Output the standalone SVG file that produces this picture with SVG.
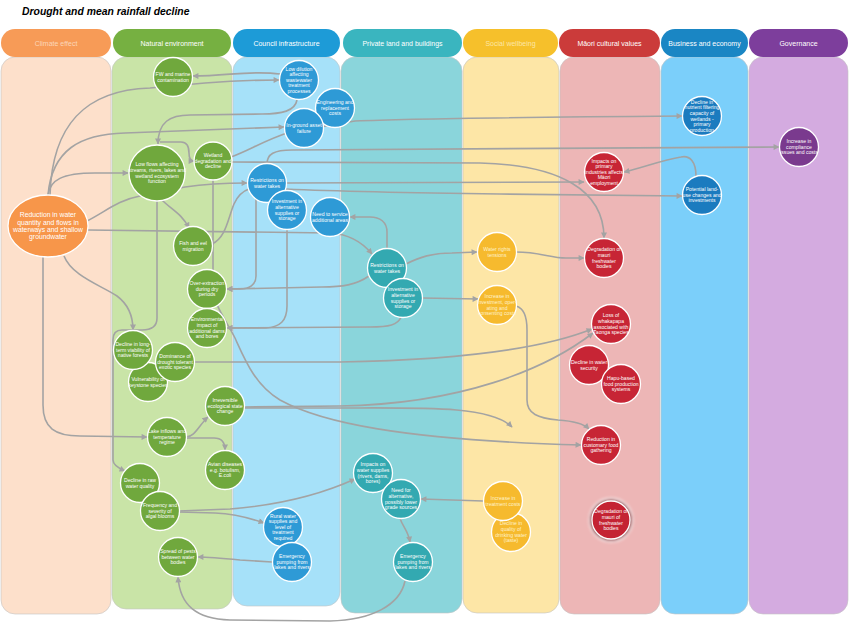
<svg xmlns="http://www.w3.org/2000/svg" width="850" height="626" viewBox="0 0 850 626">
<defs>
<style>
.lane{stroke:#C4C4C4;stroke-width:0.6}
.hd{font-family:"Liberation Sans",Arial,sans-serif;font-size:7px;text-anchor:middle;fill:#FFFFFF}
.c{fill:none;stroke:#A3A3A3;stroke-width:1.6}
.a{marker-end:url(#ah)}
circle,ellipse{stroke:#FFFFFF;stroke-width:1.3}
.g{fill:#70A83D}.cb{fill:#2E9AD6}.pt{fill:#33A9B1}.y{fill:#F6BA2E}.r{fill:#C72535}.bb{fill:#1B7BBF}.pu{fill:#7A3A8E}
.t{font-family:"Liberation Sans",Arial,sans-serif;font-size:5.1px;text-anchor:middle;fill:#FFFFFF}
.ty{fill:#FFF2CC}
.et{font-family:"Liberation Sans",Arial,sans-serif;font-size:6.8px;text-anchor:middle;fill:#FFFFFF}
</style>
<marker id="ah" viewBox="0 0 10 10" refX="9" refY="5" markerWidth="7" markerHeight="6" markerUnits="userSpaceOnUse" orient="auto"><path d="M0,0 L10,5 L0,10 z" fill="#A3A3A3"/></marker>
<filter id="blur" x="-50%" y="-50%" width="200%" height="200%"><feGaussianBlur stdDeviation="1.6"/></filter>
</defs>
<rect width="850" height="626" fill="#FFFFFF"/>
<text x="22" y="15" font-family="Liberation Sans, Arial, sans-serif" font-weight="bold" font-style="italic" font-size="10.4" fill="#000000">Drought and mean rainfall decline</text>

<g id="lanes">
<rect class="lane" x="1" y="57" width="110" height="557" rx="14" fill="#FDE0CB"/>
<rect class="lane" x="112" y="57" width="120" height="552" rx="14" fill="#C9E4A7"/>
<rect class="lane" x="233" y="57" width="107" height="549" rx="14" fill="#A6E1F9"/>
<rect class="lane" x="341" y="57" width="121" height="556" rx="14" fill="#8AD5DB"/>
<rect class="lane" x="463" y="57" width="96" height="556" rx="14" fill="#FDE6A6"/>
<rect class="lane" x="560" y="57" width="100" height="557" rx="14" fill="#EDB6B6"/>
<rect class="lane" x="661" y="57" width="87" height="557" rx="14" fill="#7BCFFA"/>
<rect class="lane" x="749" y="57" width="99" height="557" rx="14" fill="#D4ABE0"/>
</g>
<g id="headers">
<rect x="1" y="29" width="110" height="28" rx="14" fill="#F79B57"/><text class="hd" x="56" y="45.5" style="fill:#FCD6B8">Climate effect</text>
<rect x="113" y="29" width="118" height="28" rx="14" fill="#76B041"/><text class="hd" x="172" y="45.5">Natural environment</text>
<rect x="233" y="29" width="107" height="28" rx="14" fill="#1D9BD7"/><text class="hd" x="286.5" y="45.5">Council infrastructure</text>
<rect x="343" y="29" width="119" height="28" rx="14" fill="#3AB5BF"/><text class="hd" x="402.5" y="45.5">Private land and buildings</text>
<rect x="463" y="29" width="95" height="28" rx="14" fill="#F6C02B"/><text class="hd" x="510.5" y="45.5" style="fill:#FDE6A4">Social wellbeing</text>
<rect x="559" y="29" width="101" height="28" rx="14" fill="#CB3B3A"/><text class="hd" x="609.5" y="45.5">Māori cultural values</text>
<rect x="661" y="29" width="87" height="28" rx="14" fill="#1A86C4"/><text class="hd" x="704.5" y="45.5">Business and economy</text>
<rect x="749" y="29" width="99" height="28" rx="14" fill="#7D3E9C"/><text class="hd" x="798.5" y="45.5">Governance</text>
</g>

<g id="connectors">
<path class="c a" d="M 50 195 C 52 125, 85 90, 150 88 L 205 83 C 230 81, 255 80, 279 80"/>
<path class="c a" d="M 280 74 C 250 70, 228 76, 193 76"/>
<path class="c a" d="M 48 195 C 52 150, 80 134, 125 133 L 284 127"/>
<path class="c a" d="M 48 195 C 50 180, 62 173, 95 173 L 128 173"/>
<path class="c a" d="M 87 221 C 105 212, 118 200, 140 196 L 185 187 C 205 184, 222 183, 247 183"/>
<path class="c" d="M 212 244 C 226 238, 228 218, 234 204 C 238 195, 243 191, 249 189"/>
<path class="c a" d="M 88 230 L 330 233 C 348 234, 362 242, 372 254"/>
<path class="c a" d="M 64 256 C 72 276, 100 285, 117 296 C 129 305, 133 316, 133 330"/>
<path class="c a" d="M 43 257 L 43 405 C 43 428, 55 436, 80 436 L 147 437"/>
<path class="c a" d="M 162 200 C 172 210, 182 214, 189 228"/>
<path class="c a" d="M 157 201 L 157 318 C 157 327, 151 330, 142 330 L 122 330 C 116 330, 113 333, 113 340 L 113 460 C 113 465, 118 468, 125 471"/>
<path class="c a" d="M 297 100 C 295 111, 282 114, 262 114 L 190 115 C 170 115, 158 122, 158 144"/>
<path class="c a" d="M 160 142 L 181 142 C 187 142, 189 147, 189 153 C 189 159, 191 161, 194 161"/>
<path class="c a" d="M 231 157 C 250 150, 265 140, 290 132 L 355 121 C 420 118, 550 117, 682 116"/>
<path class="c a" d="M 267 164 C 267 154, 274 150, 292 150 L 779 147"/>
<path class="c a" d="M 232 162 L 480 163 C 560 165, 604 190, 604 238"/>
<path class="c a" d="M 286 183 L 584 182"/>
<path class="c a" d="M 285 189 C 330 191, 420 193, 500 194 L 682 196"/>
<path class="c a" d="M 696 176 C 696 162, 690 155, 681 157 C 662 160, 642 168, 624 172"/>
<path class="c a" d="M 256 199 L 256 276 C 256 285, 249 289, 240 289 L 227 289"/>
<path class="c a" d="M 369 276 C 356 285, 342 287, 322 287 L 227 289"/>
<path class="c a" d="M 287 229 L 287 306 C 287 321, 280 327, 266 328 L 227 328"/>
<path class="c a" d="M 401 317 C 398 325, 389 327, 370 327 L 227 328"/>
<path class="c a" d="M 194 362 L 340 362 C 450 360, 540 350, 592 329"/>
<path class="c a" d="M 244 407 L 340 406 C 460 404, 545 370, 593 333"/>
<path class="c a" d="M 244 408 L 330 408 C 420 408, 490 405, 512 427"/>
<path class="c a" d="M 213 180 L 213 285 C 213 305, 225 318, 235 338 C 245 360, 255 385, 280 400 C 320 422, 400 440, 581 445"/>
<path class="c a" d="M 516 306 C 524 308, 527 316, 527 330 L 527 400 C 527 414, 538 418, 558 420 C 574 421, 584 424, 589 429"/>
<path class="c a" d="M 186 437 C 195 437, 199 425, 208 417"/>
<path class="c a" d="M 186 438 L 214 438 C 221 438, 225 442, 225 450"/>
<path class="c a" d="M 179 511 L 230 509 C 280 505, 322 494, 355 479"/>
<path class="c a" d="M 179 512 L 215 513 C 236 514, 250 518, 264 523"/>
<path class="c a" d="M 272 562 L 240 560 C 220 558, 210 557, 198 557"/>
<path class="c a" d="M 405 581 C 400 605, 372 620, 330 621 L 230 620 C 196 619, 180 605, 178 577"/>
<path class="c a" d="M 400 518 C 402 526, 408 530, 410 542"/>
<path class="c a" d="M 483 501 L 421 499"/>
<path class="c a" d="M 406 264 C 420 257, 432 253, 452 253 L 477 252"/>
<path class="c a" d="M 387 248 L 387 232 C 387 222, 380 217, 370 217 L 350 217"/>
<path class="c a" d="M 516 252 C 540 252, 550 258, 566 258 L 584 258"/>
<path class="c a" d="M 422 298 L 478 299"/>
</g>

<g id="reduction-water"><ellipse cx="48" cy="226" rx="40" ry="31" fill="#F7964A"/><text class="et" x="48" y="226"><tspan x="48" dy="-8.6">Reduction in water</tspan><tspan x="48" dy="7.3">quantity and flows in</tspan><tspan x="48" dy="7.3">waterways and shallow</tspan><tspan x="48" dy="7.3">groundwater</tspan></text></g>

<g id="fw-contamination"><circle class="g" cx="173" cy="77" r="19.5"/><text class="t" x="173" y="77"><tspan x="173" dy="-1">FW and marine</tspan><tspan x="173" dy="5.6">contamination</tspan></text></g>
<g id="low-dilution"><circle class="cb" cx="299" cy="80" r="19.5"/><text class="t" x="299" y="80"><tspan x="299" dy="-9.4">Low dilution</tspan><tspan x="299" dy="5.6">affecting</tspan><tspan x="299" dy="5.6">wastewater</tspan><tspan x="299" dy="5.6">treatment</tspan><tspan x="299" dy="5.6">processes</tspan></text></g>
<g id="engineering-costs"><circle class="cb" cx="335" cy="108" r="19.5"/><text class="t" x="335" y="108"><tspan x="335" dy="-3.8">Engineering and</tspan><tspan x="335" dy="5.6">replacement</tspan><tspan x="335" dy="5.6">costs</tspan></text></g>
<g id="inground-asset"><circle class="cb" cx="304" cy="128" r="19.5"/><text class="t" x="304" y="128"><tspan x="304" dy="-1">In-ground asset</tspan><tspan x="304" dy="5.6">failure</tspan></text></g>
<g id="low-flows"><circle class="g" cx="157" cy="173" r="28"/><text class="t" x="157" y="173"><tspan x="157" dy="-6.6">Low flows affecting</tspan><tspan x="157" dy="5.6">streams, rivers, lakes and</tspan><tspan x="157" dy="5.6">wetland ecosystem</tspan><tspan x="157" dy="5.6">function</tspan></text></g>
<g id="wetland-degradation"><circle class="g" cx="213" cy="161" r="19"/><text class="t" x="213" y="161"><tspan x="213" dy="-3.8">Wetland</tspan><tspan x="213" dy="5.6">degradation and</tspan><tspan x="213" dy="5.6">decline</tspan></text></g>
<g id="restrictions-council"><circle class="cb" cx="267" cy="183" r="19.5"/><text class="t" x="267" y="183"><tspan x="267" dy="-1">Restrictions on</tspan><tspan x="267" dy="5.6">water takes</tspan></text></g>
<g id="investment-council"><circle class="cb" cx="287" cy="210" r="19.5"/><text class="t" x="287" y="210"><tspan x="287" dy="-6.6">Investment in</tspan><tspan x="287" dy="5.6">alternative</tspan><tspan x="287" dy="5.6">supplies or</tspan><tspan x="287" dy="5.6">storage</tspan></text></g>
<g id="need-service"><circle class="cb" cx="330" cy="217" r="19.5"/><text class="t" x="330" y="217"><tspan x="330" dy="-1">Need to service</tspan><tspan x="330" dy="5.6">additional areas</tspan></text></g>
<g id="fish-eel"><circle class="g" cx="193" cy="246" r="19.5"/><text class="t" x="193" y="246"><tspan x="193" dy="-1">Fish and eel</tspan><tspan x="193" dy="5.6">migration</tspan></text></g>
<g id="over-extraction"><circle class="g" cx="207" cy="289" r="19.5"/><text class="t" x="207" y="289"><tspan x="207" dy="-3.8">Over-extraction</tspan><tspan x="207" dy="5.6">during dry</tspan><tspan x="207" dy="5.6">periods</tspan></text></g>
<g id="environmental-impact"><circle class="g" cx="207" cy="328" r="19.5"/><text class="t" x="207" y="328"><tspan x="207" dy="-6.6">Environmental</tspan><tspan x="207" dy="5.6">impact of</tspan><tspan x="207" dy="5.6">additional dams</tspan><tspan x="207" dy="5.6">and bores</tspan></text></g>
<g id="vulnerability-keystone"><circle class="g" cx="148" cy="382" r="19.5"/><text class="t" x="148" y="382"><tspan x="148" dy="-1">Vulnerability of</tspan><tspan x="148" dy="5.6">keystone species</tspan></text></g>
<g id="decline-native-forests"><circle class="g" cx="133" cy="350" r="19.5"/><text class="t" x="133" y="350"><tspan x="133" dy="-3.8">Decline in long-</tspan><tspan x="133" dy="5.6">term viability of</tspan><tspan x="133" dy="5.6">native forests</tspan></text></g>
<g id="dominance-exotic"><circle class="g" cx="175" cy="362" r="19.5"/><text class="t" x="175" y="362"><tspan x="175" dy="-3.8">Dominance of</tspan><tspan x="175" dy="5.6">drought tolerant</tspan><tspan x="175" dy="5.6">exotic species</tspan></text></g>
<g id="irreversible-change"><circle class="g" cx="225" cy="406" r="19.5"/><text class="t" x="225" y="406"><tspan x="225" dy="-3.8">Irreversible</tspan><tspan x="225" dy="5.6">ecological state</tspan><tspan x="225" dy="5.6">change</tspan></text></g>
<g id="lake-inflows"><circle class="g" cx="167" cy="437" r="19.5"/><text class="t" x="167" y="437"><tspan x="167" dy="-3.8">Lake inflows and</tspan><tspan x="167" dy="5.6">temperature</tspan><tspan x="167" dy="5.6">regime</tspan></text></g>
<g id="avian-diseases"><circle class="g" cx="225" cy="470" r="19.5"/><text class="t" x="225" y="470"><tspan x="225" dy="-3.8">Avian diseases</tspan><tspan x="225" dy="5.6">e.g. botulism,</tspan><tspan x="225" dy="5.6">E.coli</tspan></text></g>
<g id="decline-raw-water"><circle class="g" cx="140" cy="483" r="19.5"/><text class="t" x="140" y="483"><tspan x="140" dy="-1">Decline in raw</tspan><tspan x="140" dy="5.6">water quality</tspan></text></g>
<g id="algal-blooms"><circle class="g" cx="160" cy="511" r="19.5"/><text class="t" x="160" y="511"><tspan x="160" dy="-3.8">Frequency and</tspan><tspan x="160" dy="5.6">severity of</tspan><tspan x="160" dy="5.6">algal blooms</tspan></text></g>
<g id="spread-pests"><circle class="g" cx="178" cy="557" r="19.5"/><text class="t" x="178" y="557"><tspan x="178" dy="-3.8">Spread of pests</tspan><tspan x="178" dy="5.6">between water</tspan><tspan x="178" dy="5.6">bodies</tspan></text></g>
<g id="rural-water"><circle class="cb" cx="283" cy="527" r="19.5"/><text class="t" x="283" y="527"><tspan x="283" dy="-9.4">Rural water</tspan><tspan x="283" dy="5.6">supplies and</tspan><tspan x="283" dy="5.6">level of</tspan><tspan x="283" dy="5.6">treatment</tspan><tspan x="283" dy="5.6">required</tspan></text></g>
<g id="emergency-council"><circle class="cb" cx="292" cy="562" r="19.5"/><text class="t" x="292" y="562"><tspan x="292" dy="-3.8">Emergency</tspan><tspan x="292" dy="5.6">pumping from</tspan><tspan x="292" dy="5.6">lakes and rivers</tspan></text></g>

<g id="restrictions-private"><circle class="pt" cx="387" cy="268" r="19.5"/><text class="t" x="387" y="268"><tspan x="387" dy="-1">Restrictions on</tspan><tspan x="387" dy="5.6">water takes</tspan></text></g>
<g id="investment-private"><circle class="pt" cx="403" cy="298" r="19.5"/><text class="t" x="403" y="298"><tspan x="403" dy="-6.6">Investment in</tspan><tspan x="403" dy="5.6">alternative</tspan><tspan x="403" dy="5.6">supplies or</tspan><tspan x="403" dy="5.6">storage</tspan></text></g>
<g id="impacts-water-supplies"><circle class="pt" cx="373" cy="473" r="19.5"/><text class="t" x="373" y="473"><tspan x="373" dy="-6.6">Impacts on</tspan><tspan x="373" dy="5.6">water supplies</tspan><tspan x="373" dy="5.6">(rivers, dams,</tspan><tspan x="373" dy="5.6">bores)</tspan></text></g>
<g id="need-alternative"><circle class="pt" cx="401" cy="499" r="19.5"/><text class="t" x="401" y="499"><tspan x="401" dy="-6.6">Need for</tspan><tspan x="401" dy="5.6">alternative,</tspan><tspan x="401" dy="5.6">possibly lower</tspan><tspan x="401" dy="5.6">grade sources</tspan></text></g>
<g id="emergency-private"><circle class="pt" cx="413" cy="562" r="19.5"/><text class="t" x="413" y="562"><tspan x="413" dy="-3.8">Emergency</tspan><tspan x="413" dy="5.6">pumping from</tspan><tspan x="413" dy="5.6">lakes and rivers</tspan></text></g>

<g id="water-rights"><circle class="y" cx="497" cy="252" r="19.5"/><text class="t ty" x="497" y="252"><tspan x="497" dy="-1">Water rights</tspan><tspan x="497" dy="5.6">tensions</tspan></text></g>
<g id="increase-investment"><circle class="y" cx="497" cy="305" r="19.5"/><text class="t ty" x="497" y="305"><tspan x="497" dy="-6.6">Increase in</tspan><tspan x="497" dy="5.6">investment, oper-</tspan><tspan x="497" dy="5.6">ating and</tspan><tspan x="497" dy="5.6">consenting costs</tspan></text></g>
<g id="decline-drinking-water"><circle class="y" cx="511" cy="532" r="19.5"/><text class="t ty" x="511" y="532"><tspan x="511" dy="-6.6">Decline in</tspan><tspan x="511" dy="5.6">quality of</tspan><tspan x="511" dy="5.6">drinking water</tspan><tspan x="511" dy="5.6">(taste)</tspan></text></g>
<g id="increase-treatment"><circle class="y" cx="503" cy="501" r="19.5"/><text class="t ty" x="503" y="501"><tspan x="503" dy="-1">Increase in</tspan><tspan x="503" dy="5.6">treatment costs</tspan></text></g>

<g id="impacts-primary"><circle class="r" cx="604" cy="172" r="19.5"/><text class="t" x="604" y="172"><tspan x="604" dy="-9.4">Impacts on</tspan><tspan x="604" dy="5.6">primary</tspan><tspan x="604" dy="5.6">industries affects</tspan><tspan x="604" dy="5.6">Māori</tspan><tspan x="604" dy="5.6">employment</tspan></text></g>
<g id="degradation-mauri-1"><circle class="r" cx="604" cy="258" r="19.5"/><text class="t" x="604" y="258"><tspan x="604" dy="-6.6">Degradation of</tspan><tspan x="604" dy="5.6">mauri</tspan><tspan x="604" dy="5.6">freshwater</tspan><tspan x="604" dy="5.6">bodies</tspan></text></g>
<g id="loss-whakapapa"><circle class="r" cx="611" cy="324" r="19.5"/><text class="t" x="611" y="324"><tspan x="611" dy="-6.6">Loss of</tspan><tspan x="611" dy="5.6">whakapapa</tspan><tspan x="611" dy="5.6">associated with</tspan><tspan x="611" dy="5.6">Taonga species</tspan></text></g>
<g id="decline-water-security"><circle class="r" cx="589" cy="365" r="19.5"/><text class="t" x="589" y="365"><tspan x="589" dy="-1">Decline in water</tspan><tspan x="589" dy="5.6">security</tspan></text></g>
<g id="hapu-food"><circle class="r" cx="621" cy="384" r="19.5"/><text class="t" x="621" y="384"><tspan x="621" dy="-3.8">Hapu-based</tspan><tspan x="621" dy="5.6">food production</tspan><tspan x="621" dy="5.6">systems</tspan></text></g>
<g id="customary-food"><circle class="r" cx="601" cy="445" r="19.5"/><text class="t" x="601" y="445"><tspan x="601" dy="-3.8">Reduction in</tspan><tspan x="601" dy="5.6">customary food</tspan><tspan x="601" dy="5.6">gathering</tspan></text></g>
<g id="degradation-mauri-2"><circle cx="611" cy="520" r="21.5" fill="#8E1422" stroke="none" filter="url(#blur)"/><circle cx="611" cy="520" r="19" fill="#C42333" stroke="none"/><text class="t" x="611" y="520"><tspan x="611" dy="-6.6">Degradation of</tspan><tspan x="611" dy="5.6">mauri of</tspan><tspan x="611" dy="5.6">freshwater</tspan><tspan x="611" dy="5.6">bodies</tspan></text></g>

<g id="decline-nutrient"><circle class="bb" cx="702" cy="116" r="19.5"/><text class="t" x="702" y="116"><tspan x="702" dy="-12.2">Decline in</tspan><tspan x="702" dy="5.6">nutrient filtering</tspan><tspan x="702" dy="5.6">capacity of</tspan><tspan x="702" dy="5.6">wetlands -</tspan><tspan x="702" dy="5.6">primary</tspan><tspan x="702" dy="5.6">production</tspan></text></g>
<g id="land-use-changes"><circle class="bb" cx="702" cy="195" r="19.5"/><text class="t" x="702" y="195"><tspan x="702" dy="-3.8">Potential land-</tspan><tspan x="702" dy="5.6">use changes and</tspan><tspan x="702" dy="5.6">investments</tspan></text></g>
<g id="compliance-costs"><circle class="pu" cx="799" cy="147" r="19.5"/><text class="t" x="799" y="147"><tspan x="799" dy="-3.8">Increase in</tspan><tspan x="799" dy="5.6">compliance</tspan><tspan x="799" dy="5.6">issues and costs</tspan></text></g>
</svg>
